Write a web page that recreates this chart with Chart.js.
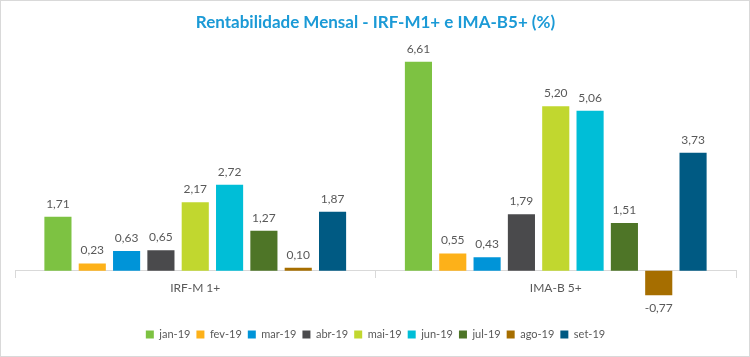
<!DOCTYPE html>
<html><head><meta charset="utf-8">
<script src="https://cdn.jsdelivr.net/npm/chart.js@4/dist/chart.umd.min.js"></script>
<style>
html,body{margin:0;padding:0;background:#fff;}
#wrap{width:750px;height:357px;box-sizing:border-box;border:1px solid #d9d9d9;position:relative;}
canvas{display:block;}
</style></head>
<body><div id="wrap"><canvas id="c" width="748" height="355"></canvas></div>
<script>
const categories = ['IRF-M 1+', 'IMA-B 5+'];
const seriesNames = ['jan-19','fev-19','mar-19','abr-19','mai-19','jun-19','jul-19','ago-19','set-19'];
const jan19 = [1.71, 6.61];
const fev19 = [0.23, 0.55];
const mar19 = [0.63, 0.43];
const abr19 = [0.65, 1.79];
const mai19 = [2.17, 5.20];
const jun19 = [2.72, 5.06];
const jul19 = [1.27, 1.51];
const ago19 = [0.10, -0.77];
const set19 = [1.87, 3.73];
const seriesValues = [jan19, fev19, mar19, abr19, mai19, jun19, jul19, ago19, set19];
const colors = ['#7DC242','#FDB119','#0094D8','#4A4A4C','#C1D72F','#00BED7','#4E7527','#A66E00','#005A83'];

const labelPlugin = {
  id: 'valueLabels',
  afterDatasetsDraw(chart) {
    const ctx = chart.ctx;
    ctx.save();
    ctx.font = '12px Lato, sans-serif';
    ctx.fillStyle = '#595959';
    ctx.textAlign = 'center';
    ctx.textBaseline = 'middle';
    chart.data.datasets.forEach((ds, i) => {
      const meta = chart.getDatasetMeta(i);
      meta.data.forEach((el, j) => {
        const v = ds.data[j];
        const txt = v.toFixed(2).replace('.', ',');
        const y = v >= 0 ? el.y - 13 : el.y + 13;
        ctx.fillText(txt, el.x, y);
      });
    });
    ctx.restore();
  }
};

new Chart(document.getElementById('c'), {
  type: 'bar',
  data: {
    labels: categories,
    datasets: seriesNames.map((n, i) => ({
      label: n,
      data: seriesValues[i],
      backgroundColor: colors[i],
      categoryPercentage: 0.857,
      barPercentage: 0.79
    }))
  },
  options: {
    responsive: false,
    animation: false,
    layout: { padding: { left: 14, right: 13, bottom: 6 } },
    plugins: {
      title: {
        display: true,
        text: 'Rentabilidade Mensal - IRF-M1+ e IMA-B5+ (%)',
        color: '#1B9AD6',
        font: { family: 'Lato, sans-serif', size: 17, weight: 'bold' },
        padding: { top: 11, bottom: 17 }
      },
      legend: {
        position: 'bottom',
        labels: {
          boxWidth: 8, boxHeight: 8, padding: 6,
          color: '#595959',
          font: { family: 'Lato, sans-serif', size: 11 }
        }
      },
      tooltip: { enabled: false }
    },
    scales: {
      x: {
        position: { y: 0 },
        grid: { display: true, drawOnChartArea: false, drawTicks: true, tickLength: 7, color: '#d9d9d9', offset: true },
        border: { display: true, color: '#d9d9d9' },
        ticks: { color: '#595959', font: { family: 'Lato, sans-serif', size: 12 }, padding: 3 }
      },
      y: {
        display: false,
        min: -1.65, max: 7
      }
    }
  },
  plugins: [labelPlugin]
});
</script></body></html>
